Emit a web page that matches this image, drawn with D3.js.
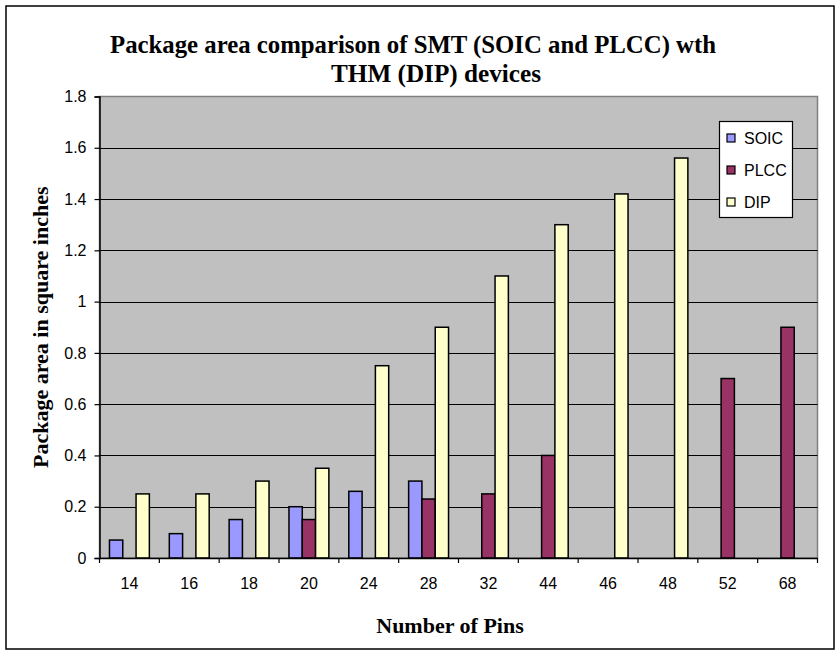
<!DOCTYPE html>
<html>
<head>
<meta charset="utf-8">
<script src="https://cdn.jsdelivr.net/npm/d3@7"></script>
<style>
  html, body { margin: 0; padding: 0; background: #fff; }
  svg { display: block; }
</style>
</head>
<body>
<svg id="chart" width="836" height="651"></svg>
<script>
const categories = ["14", "16", "18", "20", "24", "28", "32", "44", "46", "48", "52", "68"];
const seriesNames = ["SOIC", "PLCC", "DIP"];
const soic = [0.07, 0.095, 0.15, 0.20, 0.26, 0.30, null, null, null, null, null, null];
const plcc = [null, null, null, 0.15, null, 0.23, 0.25, 0.40, null, null, 0.70, 0.90];
const dip  = [0.25, 0.25, 0.30, 0.35, 0.75, 0.90, 1.10, 1.30, 1.42, 1.56, null, null];
const yTicks = [0, 0.2, 0.4, 0.6, 0.8, 1, 1.2, 1.4, 1.6, 1.8];
const colors = ["#9999FF", "#993366", "#FFFFCC"];

const titleLines = ["Package area comparison of SMT (SOIC and PLCC) wth", "THM (DIP) devices"];
const xTitle = "Number of Pins";
const yTitle = "Package area in square inches";

const svg = d3.select("#chart");
const plot = { left: 99.5, right: 817.5, top: 96.5, bottom: 558 };

// outer frame
svg.append("rect").attr("x", 6).attr("y", 6).attr("width", 828).attr("height", 643)
  .attr("fill", "#fff").attr("stroke", "#000").attr("stroke-width", 1.5);

const x = d3.scaleBand().domain(categories).range([plot.left, plot.right]).paddingInner(0).paddingOuter(0);
const y = d3.scaleLinear().domain([0, 1.8]).range([plot.bottom, plot.top]);

// plot area
svg.append("rect").attr("x", plot.left).attr("y", plot.top)
  .attr("width", plot.right - plot.left).attr("height", plot.bottom - plot.top)
  .attr("fill", "#C0C0C0").attr("stroke", "#808080").attr("stroke-width", 1.5);

// gridlines
svg.append("g").selectAll("line").data(yTicks.filter(d => d > 0 && d < 1.8)).join("line")
  .attr("x1", plot.left).attr("x2", plot.right)
  .attr("y1", d => Math.round(y(d)) + 0.5).attr("y2", d => Math.round(y(d)) + 0.5)
  .attr("stroke", "#000").attr("stroke-width", 1);

// bars
const groupW = x.bandwidth();
const barW = groupW / 4.5;
const inner = d3.scaleBand().domain(seriesNames).range([0.75 * barW, 3.75 * barW]).padding(0);
const series = [soic, plcc, dip];
const barData = [];
series.forEach((vals, si) => vals.forEach((v, ci) => {
  if (v != null) barData.push({ cat: categories[ci], s: seriesNames[si], v, color: colors[si] });
}));
svg.append("g").selectAll("rect").data(barData).join("rect")
  .attr("x", d => x(d.cat) + inner(d.s))
  .attr("width", inner.bandwidth())
  .attr("y", d => y(d.v))
  .attr("height", d => y(0) - y(d.v))
  .attr("fill", d => d.color)
  .attr("stroke", "#000").attr("stroke-width", 1.5);

// y axis
const yAxis = d3.axisLeft(y).tickValues(yTicks).tickSize(5).tickPadding(8)
  .tickFormat(d => d3.format("")(+d.toFixed(1)));
const gy = svg.append("g").attr("transform", `translate(${plot.left},0)`).call(yAxis);
gy.select(".domain").attr("stroke", "#000").attr("stroke-width", 1.5);
gy.selectAll(".tick line").attr("stroke", "#000").attr("stroke-width", 1.2);
gy.selectAll("text").attr("font-family", "'Liberation Sans', Arial, sans-serif").attr("font-size", 16).attr("fill", "#000");

// x axis
const xAxis = d3.axisBottom(x).tickSize(0).tickPadding(20);
const gx = svg.append("g").attr("transform", `translate(0,${plot.bottom})`).call(xAxis);
gx.select(".domain").attr("stroke", "#000").attr("stroke-width", 1.5);
gx.selectAll("text").attr("font-family", "'Liberation Sans', Arial, sans-serif").attr("font-size", 16).attr("fill", "#000");
gx.append("g").selectAll("line").data(categories.concat(["end"])).join("line")
  .attr("x1", (d, i) => i < categories.length ? x(d) : plot.right)
  .attr("x2", (d, i) => i < categories.length ? x(d) : plot.right)
  .attr("y1", 0).attr("y2", 5).attr("stroke", "#000").attr("stroke-width", 1.2);

// titles
const serif = "'Liberation Serif', 'Times New Roman', serif";
svg.append("text").attr("x", 413).attr("y", 53).attr("text-anchor", "middle")
  .attr("font-family", serif).attr("font-weight", "bold").attr("font-size", 26)
  .attr("textLength", 606).attr("lengthAdjust", "spacingAndGlyphs")
  .text(titleLines[0]);
svg.append("text").attr("x", 436).attr("y", 82).attr("text-anchor", "middle")
  .attr("font-family", serif).attr("font-weight", "bold").attr("font-size", 26)
  .attr("textLength", 210).attr("lengthAdjust", "spacingAndGlyphs")
  .text(titleLines[1]);
svg.append("text").attr("x", 450).attr("y", 633).attr("text-anchor", "middle")
  .attr("font-family", serif).attr("font-weight", "bold").attr("font-size", 22)
  .text(xTitle);
svg.append("text").attr("transform", `translate(48,${(plot.top + plot.bottom) / 2}) rotate(-90)`)
  .attr("text-anchor", "middle")
  .attr("font-family", serif).attr("font-weight", "bold").attr("font-size", 22)
  .text(yTitle);

// legend
const lg = svg.append("g");
lg.append("rect").attr("x", 719.5).attr("y", 121.5).attr("width", 73).attr("height", 96)
  .attr("fill", "#fff").attr("stroke", "#000").attr("stroke-width", 1.2);
seriesNames.forEach((n, i) => {
  const cy = 138 + i * 32;
  lg.append("rect").attr("x", 727).attr("y", cy - 4).attr("width", 8).attr("height", 8)
    .attr("fill", colors[i]).attr("stroke", "#000").attr("stroke-width", 1.2);
  lg.append("text").attr("x", 744).attr("y", cy + 6)
    .attr("font-family", "'Liberation Sans', Arial, sans-serif").attr("font-size", 16)
    .text(n);
});
</script>
</body>
</html>
